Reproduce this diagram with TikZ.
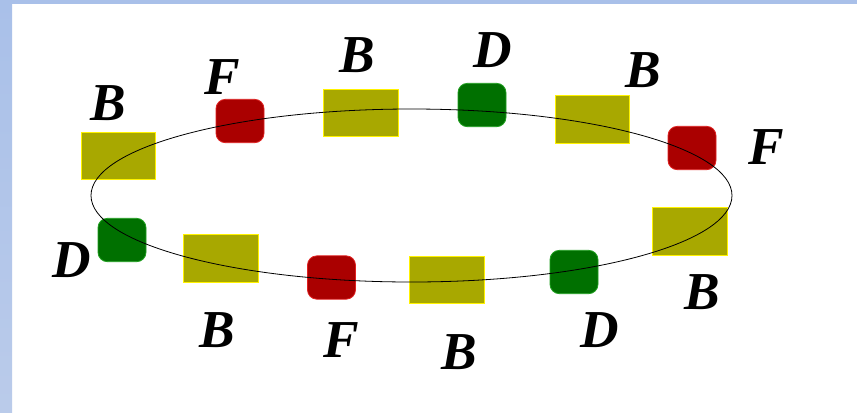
\documentclass[tikz,border=0pt]{standalone}
\usepackage{fontspec}
\setmainfont{Liberation Serif}
\definecolor{olivebox}{HTML}{A8A800}
\definecolor{redbox}{HTML}{AA0000}
\definecolor{redline}{HTML}{E02020}
\definecolor{greenbox}{HTML}{007000}
\definecolor{greenline}{HTML}{20A020}
\definecolor{frameA}{HTML}{A9C0E9}
\definecolor{frameB}{HTML}{BACBEA}
\tikzset{
  bblock/.style={draw=yellow, fill=olivebox, line width=0.9pt, minimum width=56pt, minimum height=35.5pt, inner sep=0pt},
  fblock/.style={draw=redline, fill=redbox, line width=0.6pt, rounded corners=7pt, minimum width=36pt, minimum height=32.5pt, inner sep=0pt},
  dblock/.style={draw=greenline, fill=greenbox, line width=0.6pt, rounded corners=7pt, minimum width=36pt, minimum height=32.5pt, inner sep=0pt},
  lab/.style={inner sep=0pt, font=\fontsize{40}{40}\selectfont\bfseries\itshape},
  ring/.style={draw=black, line width=0.6pt}
}
\begin{document}
\begin{tikzpicture}[x=0.75pt,y=-0.75pt]
\useasboundingbox (0,0) rectangle (857,412);
\fill[white] (0,0) rectangle (857,412);
\fill[frameA] (0,0) rectangle (857,4);
\shade[top color=frameA, bottom color=frameB] (0,0) rectangle (12,412);
% blocks
\node[bblock] (b1) at (118.5,156) {};
\node[bblock] (b2) at (361,113) {};
\node[bblock] (b3) at (592.5,119.5) {};
\node[bblock] (b4) at (690,231.5) {};
\node[bblock] (b5) at (447,280) {};
\node[bblock] (b6) at (221,258.5) {};
\node[fblock] (f1) at (240,121) {};
\node[fblock] (f2) at (692,148) {};
\node[fblock] (f3) at (331.5,277.5) {};
\node[dblock] (d1) at (482,105) {};
\node[dblock] (d2) at (574,272) {};
\node[dblock] (d3) at (122,240) {};
% ring
\coordinate (c) at (411.5,195.5);
\draw[ring] (c) ellipse [x radius=320.5, y radius=86.5];
% labels
\node[lab] (lb1) at (108,103) {B};
\node[lab] (lf1) at (222,77) {F};
\node[lab] (lb2) at (357,55) {B};
\node[lab] (ld1) at (493,50) {D};
\node[lab] (lb3) at (643,70) {B};
\node[lab] (lf2) at (766,147) {F};
\node[lab] (lb4) at (702,292) {B};
\node[lab] (ld2) at (600,330) {D};
\node[lab] (lb5) at (459,352) {B};
\node[lab] (lf3) at (341,340) {F};
\node[lab] (lb6) at (217,330) {B};
\node[lab] (ld3) at (72,260) {D};
\end{tikzpicture}
\end{document}
